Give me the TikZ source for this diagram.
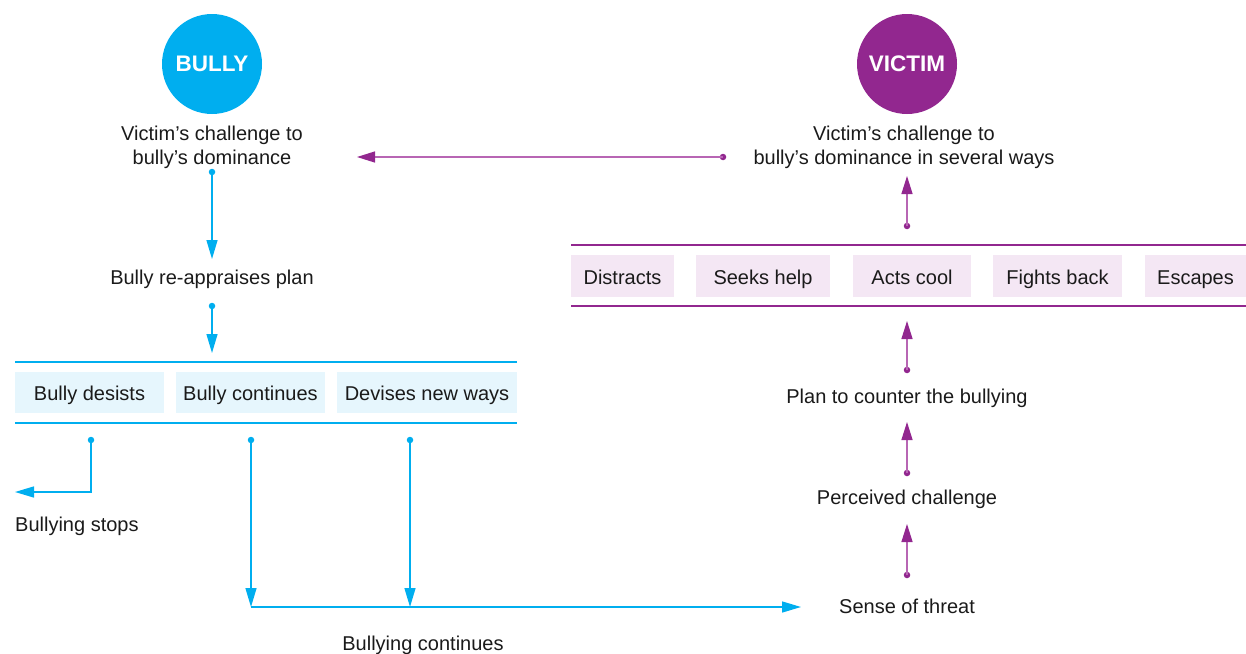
\documentclass[tikz,border=0pt]{standalone}
\usepackage{fontspec}
\setmainfont{Liberation Sans}
\usetikzlibrary{arrows.meta}
\definecolor{bblue}{HTML}{00AEEF}
\definecolor{vpurple}{HTML}{92278F}
\definecolor{vline}{HTML}{B866B4}
\definecolor{bfill}{HTML}{E6F6FD}
\definecolor{vfill}{HTML}{F4E7F4}
\definecolor{ink}{HTML}{1A1A1A}

\begin{document}
\begin{tikzpicture}[x=1pt,y=-1pt,
  txt/.style={font=\fontsize{20}{24}\selectfont, align=center, inner sep=0pt, text=ink},
  role/.style={circle, minimum size=100pt, inner sep=0pt, text=white,
    font=\fontsize{22.5}{26}\selectfont\bfseries},
  bdot/.style={circle, fill=bblue, inner sep=0pt, minimum size=6.5pt},
  vdot/.style={circle, fill=vpurple, inner sep=0pt, minimum size=6.5pt},
  barrow/.style={draw=bblue, line width=1.4pt,
    -{Triangle[length=19pt,width=11pt,color=bblue]}},
  varrow/.style={draw=vline, line width=1.3pt,
    -{Triangle[length=18pt,width=11pt,color=vpurple]}},
  bbox/.style={fill=bfill, minimum height=41pt, inner sep=0pt, txt,
    text height=18pt, text depth=2pt},
  vbox/.style={fill=vfill, minimum height=42pt, inner sep=0pt, txt,
    text height=18pt, text depth=2pt},
  brule/.style={draw=bblue, line width=1.4pt},
  vrule/.style={draw=vpurple, line width=1.4pt}]

\useasboundingbox (0,0) rectangle (1246,653);

% ---------- bully side ----------
\node[role, fill=bblue] (bully) at (212,64) {BULLY};
\node[txt] (bchal) at (212,147) {Victim’s challenge to\\bully’s dominance};
\node[bdot] (bd1) at (212,172) {};
\coordinate (bt1) at (212,259);
\node[txt] (reapp) at (212,279) {Bully re-appraises plan};
\node[bdot] (bd2) at (212,306) {};
\coordinate (bt2) at (212,353);

\coordinate (bl1) at (15,362);
\coordinate (br1) at (517,362);
\coordinate (bl2) at (15,423);
\coordinate (br2) at (517,423);
\draw[brule] (bl1) -- (br1);
\draw[brule] (bl2) -- (br2);

\node[bbox, minimum width=149pt] (desist) at (89.5,392.5) {Bully desists};
\node[bbox, minimum width=149pt] (cont) at (250.5,392.5) {Bully continues};
\node[bbox, minimum width=180pt] (devise) at (427,392.5) {Devises new ways};

\node[bdot] (od1) at (91,440) {};
\node[bdot] (od2) at (251,440) {};
\node[bdot] (od3) at (410,440) {};
\coordinate (stopcorner) at (91,492);
\coordinate (stoptip) at (15,492);
\node[txt, anchor=west] (stops) at (15,526) {Bullying stops};
\coordinate (ct2) at (251,607);
\coordinate (ct3) at (410,607);
\coordinate (threattip) at (801,607);
\node[txt] (bcont) at (423,645) {Bullying continues};

\draw[barrow] (bd1.center) -- (bt1);
\draw[barrow] (bd2.center) -- (bt2);
\draw[barrow] (od1.center) -- (stopcorner) -- (stoptip);
\draw[barrow] (od2.center) -- (ct2);
\draw[barrow] (od3.center) -- (ct3);
\draw[brule] (ct2) -- (ct3);
\draw[barrow] (ct3) -- (threattip);

% ---------- victim side ----------
\node[role, fill=vpurple] (victim) at (907,64) {VICTIM};
\node[txt] (vchal) at (904,147) {Victim’s challenge to\\bully’s dominance in several ways};
\node[vdot] (vd0) at (723,157) {};
\coordinate (vt0) at (357,157);
\draw[varrow] (vd0.center) -- (vt0);

\node[vdot] (vd1) at (907,226) {};
\coordinate (vt1) at (907,176);

\coordinate (vl1) at (571,245);
\coordinate (vr1) at (1246,245);
\coordinate (vl2) at (571,306);
\coordinate (vr2) at (1246,306);
\draw[vrule] (vl1) -- (vr1);
\draw[vrule] (vl2) -- (vr2);

\node[vbox, minimum width=103pt] (distr) at (622.5,276) {Distracts};
\node[vbox, minimum width=134pt] (seek) at (763,276) {Seeks help};
\node[vbox, minimum width=118pt] (cool) at (912,276) {Acts cool};
\node[vbox, minimum width=129pt] (fight) at (1057.5,276) {Fights back};
\node[vbox, minimum width=101pt] (escape) at (1195.5,276) {Escapes};

\coordinate (vt2) at (907,321);
\node[vdot] (vd2) at (907,370) {};
\node[txt] (plan) at (907,398) {Plan to counter the bullying};
\coordinate (vt3) at (907,422);
\node[vdot] (vd3) at (907,473) {};
\node[txt] (perc) at (907,499) {Perceived challenge};
\coordinate (vt4) at (907,524);
\node[vdot] (vd4) at (907,575) {};
\node[txt] (threat) at (907,606) {Sense of threat};

\draw[varrow] (vd1.center) -- (vt1);
\draw[varrow] (vd2.center) -- (vt2);
\draw[varrow] (vd3.center) -- (vt3);
\draw[varrow] (vd4.center) -- (vt4);
\end{tikzpicture}
\end{document}
